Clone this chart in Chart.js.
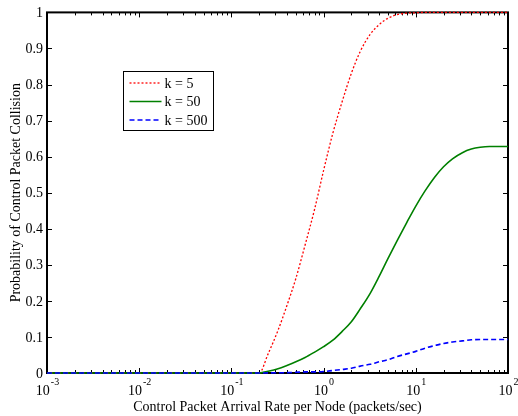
<!DOCTYPE html>
<html>
<head>
<meta charset="utf-8">
<script src="https://cdn.jsdelivr.net/npm/chart.js@4.4.0/dist/chart.umd.min.js"></script>
<style>
    html, body { margin: 0; padding: 0; background: #fff; }
</style>
</head>
<body>
<canvas id="collisionChart" width="518" height="416"></canvas>
<script>
// Chart data
const arrivalRates = [0.001, 0.2, 0.25, 0.32, 0.4, 0.5, 0.63, 0.8, 1, 1.26, 1.6, 2, 2.5, 3.2, 4, 5, 6.3, 8,
    10, 12.6, 16, 20, 25, 32, 40, 50, 63, 80, 100];
const probK5 = [0, 0, 0.053, 0.118, 0.187, 0.262, 0.355, 0.455, 0.562, 0.665, 0.755, 0.831, 0.892, 0.939, 0.966, 0.984, 0.994, 0.998,
    0.999, 1, 1, 1, 1, 1, 1, 1, 1, 1, 1];
const probK50 = [0, 0, 0.005, 0.012, 0.021, 0.031, 0.043, 0.058, 0.073, 0.091, 0.116, 0.142, 0.178, 0.221, 0.268, 0.318, 0.368, 0.418,
    0.463, 0.505, 0.543, 0.572, 0.594, 0.611, 0.621, 0.626, 0.628, 0.628, 0.628];
const probK500 = [0, 0, 0.0003, 0.0006, 0.001, 0.002, 0.003, 0.003, 0.004, 0.007, 0.01, 0.013, 0.019, 0.024, 0.031, 0.037, 0.046, 0.053,
    0.06, 0.069, 0.076, 0.082, 0.086, 0.089, 0.092, 0.093, 0.093, 0.093, 0.093];
const seriesLabels = ['k = 5', 'k = 50', 'k = 500'];
const xTickExponents = [-3, -2, -1, 0, 1, 2];
const yTickValues = [0, 0.1, 0.2, 0.3, 0.4, 0.5, 0.6, 0.7, 0.8, 0.9, 1];

const FONT = 'Liberation Serif';

function toPoints(ys) {
    return arrivalRates.map((x, i) => ({ x: x, y: ys[i] }));
}

const seriesStyles = [
    { color: '#ff0000', width: 1.3, dash: [2, 2] },
    { color: '#008000', width: 1.6, dash: [] },
    { color: '#0000ff', width: 1.6, dash: [5, 3] }
];

// MATLAB style axes: box, inward ticks, superscript decade labels, legend
const matlabAxes = {
    id: 'matlabAxes',
    beforeDatasetsDraw(chart) {
        const { ctx, chartArea: a, scales: { x, y } } = chart;
        ctx.save();
        ctx.strokeStyle = '#000';
        ctx.lineWidth = 1;
        ctx.beginPath();
        xTickExponents.forEach(e => {
            for (let m = 1; m <= 9; m++) {
                const v = m * Math.pow(10, e);
                if (v < x.min || v > x.max) continue;
                const px = Math.round(x.getPixelForValue(v)) + 0.5;
                const len = m === 1 ? 5 : 3;
                ctx.moveTo(px, a.bottom);
                ctx.lineTo(px, a.bottom - len);
                ctx.moveTo(px, a.top);
                ctx.lineTo(px, a.top + len);
            }
        });
        yTickValues.forEach(v => {
            const py = Math.round(y.getPixelForValue(v)) + 0.5;
            ctx.moveTo(a.left, py);
            ctx.lineTo(a.left + 5, py);
            ctx.moveTo(a.right, py);
            ctx.lineTo(a.right - 5, py);
        });
        ctx.stroke();
        ctx.lineWidth = 2;
        ctx.strokeRect(a.left, a.top, a.right - a.left, a.bottom - a.top);
        ctx.restore();
    },
    afterDraw(chart) {
        const { ctx, chartArea: a, scales: { x } } = chart;
        ctx.save();
        ctx.fillStyle = '#000';
        ctx.textBaseline = 'alphabetic';
        ctx.textAlign = 'left';
        xTickExponents.forEach(e => {
            const px = x.getPixelForValue(Math.pow(10, e));
            const exp = String(e);
            ctx.font = '14px "' + FONT + '"';
            const wBase = ctx.measureText('10').width;
            ctx.font = '10px "' + FONT + '"';
            const wExp = ctx.measureText(exp).width;
            const start = px - (wBase + wExp) / 2;
            ctx.font = '14px "' + FONT + '"';
            ctx.fillText('10', start, a.bottom + 22);
            ctx.font = '10px "' + FONT + '"';
            ctx.fillText(exp, start + wBase + 1, a.bottom + 12);
        });

        // legend box
        const box = { left: 123.5, top: 71.5, width: 90, height: 59 };
        ctx.fillStyle = '#fff';
        ctx.fillRect(box.left, box.top, box.width, box.height);
        ctx.strokeStyle = '#000';
        ctx.lineWidth = 1;
        ctx.strokeRect(box.left, box.top, box.width, box.height);
        ctx.font = '14px "' + FONT + '"';
        ctx.textBaseline = 'middle';
        seriesLabels.forEach((label, i) => {
            const ly = box.top + 11.5 + i * 18.5;
            const s = seriesStyles[i];
            ctx.strokeStyle = s.color;
            ctx.lineWidth = s.width;
            ctx.setLineDash(s.dash);
            ctx.beginPath();
            ctx.moveTo(box.left + 6, ly);
            ctx.lineTo(box.left + 38, ly);
            ctx.stroke();
            ctx.setLineDash([]);
            ctx.fillStyle = '#000';
            ctx.fillText(label, box.left + 41, ly + 1);
        });
        ctx.restore();
    }
};

const chart = new Chart(document.getElementById('collisionChart').getContext('2d'), {
    type: 'line',
    data: {
        datasets: [probK5, probK50, probK500].map((ys, i) => ({
            label: seriesLabels[i],
            data: toPoints(ys),
            borderColor: seriesStyles[i].color,
            borderWidth: seriesStyles[i].width,
            borderDash: seriesStyles[i].dash,
            pointRadius: 0,
            fill: false,
            cubicInterpolationMode: 'monotone',
            clip: 4,
            order: 3 - i
        }))
    },
    options: {
        responsive: false,
        animation: false,
        devicePixelRatio: 1,
        layout: { padding: { top: 10, right: 10, left: 0, bottom: 0 } },
        plugins: {
            legend: { display: false },
            tooltip: { enabled: false }
        },
        scales: {
            x: {
                type: 'logarithmic',
                min: 0.001,
                max: 100,
                afterFit: s => { s.height = 43; },
                ticks: { display: false },
                grid: { display: false, drawTicks: false },
                border: { display: false },
                title: {
                    display: true,
                    text: 'Control Packet Arrival Rate per Node (packets/sec)',
                    color: '#000',
                    font: { family: FONT, size: 14 },
                    padding: { top: 0, bottom: 0 }
                }
            },
            y: {
                min: 0,
                max: 1,
                afterFit: s => { s.width = 47; },
                afterBuildTicks: s => { s.ticks = yTickValues.map(v => ({ value: v })); },
                ticks: {
                    color: '#000',
                    padding: 4,
                    labelOffset: 1,
                    font: { family: FONT, size: 14 },
                    callback: v => String(Math.round(v * 10) / 10)
                },
                grid: { display: false, drawTicks: false },
                border: { display: false },
                title: {
                    display: true,
                    text: 'Probability of Control Packet Collision',
                    color: '#000',
                    font: { family: FONT, size: 14 },
                    padding: { top: 8, bottom: 0 }
                }
            }
        }
    },
    plugins: [matlabAxes]
});
</script>
</body>
</html>
